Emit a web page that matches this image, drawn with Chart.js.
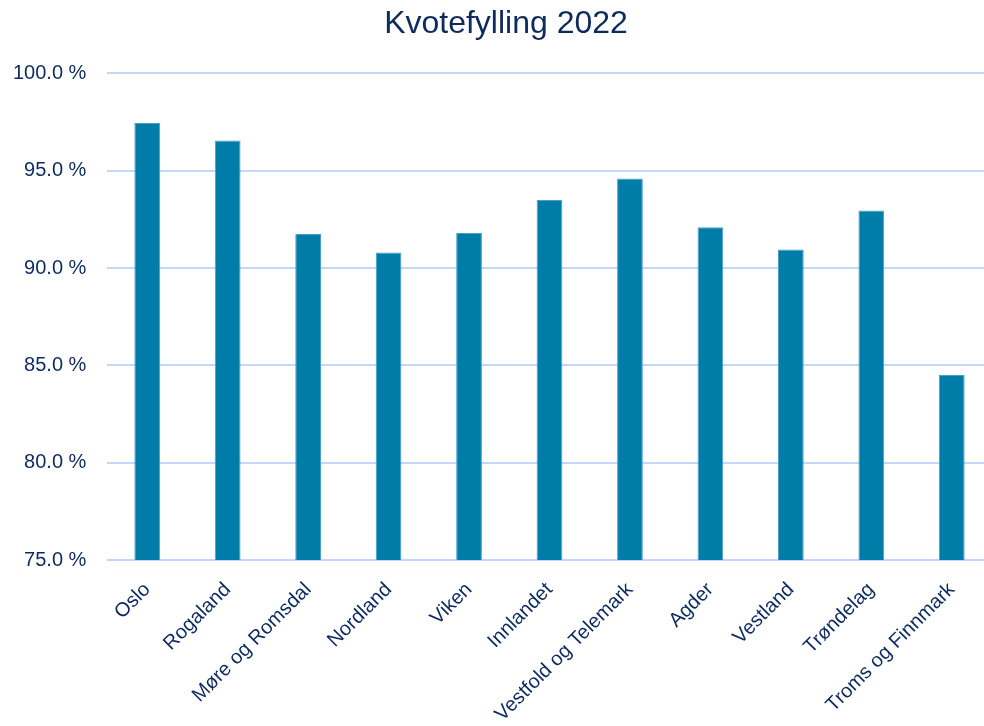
<!DOCTYPE html>
<html>
<head>
<meta charset="utf-8">
<script src="https://cdn.jsdelivr.net/npm/chart.js@4/dist/chart.umd.min.js"></script>
<style>
  html, body { margin: 0; padding: 0; overflow: hidden; background: #fff; }
</style>
</head>
<body>
<canvas id="kvote" width="1012" height="726"></canvas>
<script>
// fylker og kvotefylling i prosent
var fylker = ["Oslo", "Rogaland", "Møre og Romsdal", "Nordland", "Viken", "Innlandet",
	"Vestfold og Telemark", "Agder", "Vestland", "Trøndelag", "Troms og Finnmark"];
var kvotefylling = [97.45, 96.55, 91.75, 90.8, 91.8, 93.5, 94.6, 92.1, 90.95, 92.95, 84.5];
var yMin = 75;
var yMax = 100;
var ySteg = 5;

var navy = "#0e2a5e";
var fontFam = "'Liberation Sans', Arial, sans-serif";

new Chart(document.getElementById("kvote"), {
	type: "bar",
	data: {
		labels: fylker,
		datasets: [
			{
				label: "Kvotefylling",
				data: kvotefylling,
				backgroundColor: "#007ca8",
				borderColor: "#4a9fc6",
				borderWidth: 1,
				categoryPercentage: 1,
				barPercentage: 0.32,
			},
		],
	},
	options: {
		responsive: false,
		animation: false,
		layout: { padding: { right: 20, top: 0, left: 20, bottom: 0 } },
		scales: {
			x: {
				grid: { display: false },
				border: { display: false },
				ticks: {
					color: navy,
					font: { family: fontFam, size: 20 },
					minRotation: 45,
					maxRotation: 45,
					padding: 10,
					autoSkip: false,
				},
				afterFit: function (axis) { axis.height = 166; },
			},
			y: {
				min: yMin,
				max: yMax,
				border: { display: false },
				grid: { color: "#c4d7f8", lineWidth: 2, drawTicks: false },
				ticks: {
					stepSize: ySteg,
					color: navy,
					font: { family: fontFam, size: 20 },
					// mirror + negativ padding: etikettene havner til venstre uten å bli klippet
					mirror: true,
					crossAlign: "far",
					padding: -94,
					callback: function (v) { return v.toFixed(1) + " %"; },
				},
				afterFit: function (axis) { axis.width = 87; },
			},
		},
		plugins: {
			legend: { display: false },
			tooltip: { enabled: false },
			title: {
				display: true,
				text: "Kvotefylling 2022",
				color: navy,
				font: { family: fontFam, size: 32, weight: "normal" },
				padding: { top: 5, bottom: 30 },
			},
		},
	},
});
</script>
</body>
</html>
